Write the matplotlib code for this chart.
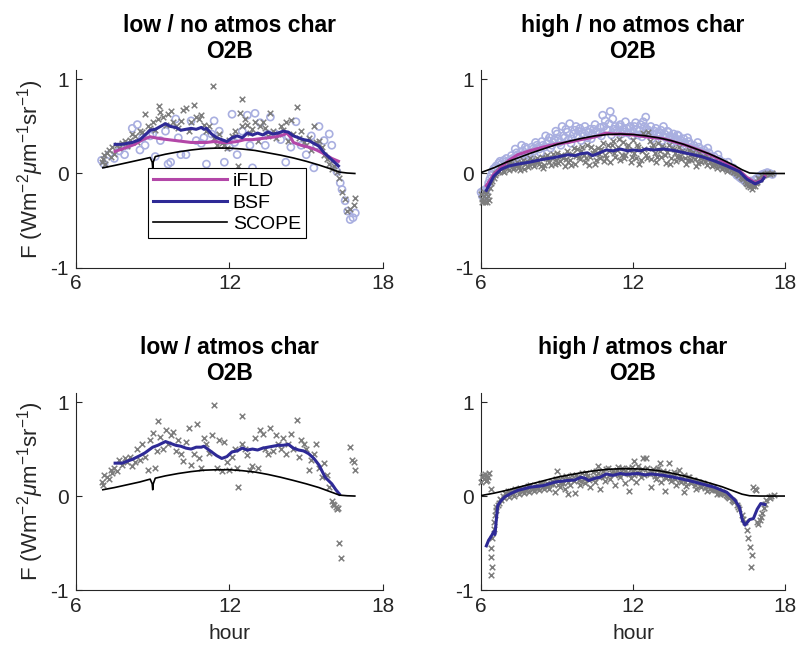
import matplotlib
matplotlib.use('Agg')
import matplotlib.pyplot as plt

plt.rcParams['font.family'] = ['Liberation Sans', 'DejaVu Sans']
plt.rcParams['mathtext.fontset'] = 'custom'
plt.rcParams['mathtext.rm'] = 'Liberation Sans'
plt.rcParams['mathtext.it'] = 'Liberation Sans:italic'
plt.rcParams['axes.unicode_minus'] = False

titles = ['low / no atmos char\nO2B', 'high / no atmos char\nO2B',
          'low / atmos char\nO2B', 'high / atmos char\nO2B']
xticks = [6, 12, 18]
yticks = [-1, 0, 1]
ylab = r'F (Wm$^{-2}\mu$m$^{-1}$sr$^{-1}$)'

# ---- low / no atmos char ----
tl_scope_x = [7.05, 7.5, 8.0, 8.5, 8.9, 8.98, 9.0, 9.02, 9.1, 9.5, 10.0, 10.5, 11.0, 11.5, 12.0, 12.5,
              13.0, 13.5, 14.0, 14.5, 15.0, 15.5, 16.0, 16.3, 16.6, 16.9]
tl_scope_y = [0.06, 0.085, 0.115, 0.145, 0.17, 0.12, 0.06, 0.12, 0.18, 0.205, 0.23, 0.25, 0.265, 0.27, 0.27, 0.26,
              0.245, 0.22, 0.195, 0.165, 0.13, 0.09, 0.045, 0.015, 0.005, 0.0]
tl_bsf = [(7.53,0.31),(7.8,0.31),(8.0,0.32),(8.2,0.33),(8.5,0.36),(8.7,0.41),(8.9,0.46),(9.1,0.47),(9.3,0.5),
          (9.5,0.53),(9.7,0.5),(9.9,0.49),(10.1,0.46),(10.3,0.47),(10.5,0.48),(10.7,0.47),(10.9,0.49),(11.0,0.47),
          (11.1,0.48),(11.3,0.42),(11.5,0.38),(11.7,0.36),(11.9,0.34),(12.1,0.38),(12.3,0.4),(12.5,0.38),(12.7,0.43),
          (12.9,0.41),(13.1,0.43),(13.3,0.41),(13.5,0.44),(13.7,0.42),(13.9,0.43),(14.1,0.45),(14.3,0.44),(14.5,0.4),
          (14.7,0.38),(14.9,0.36),(15.1,0.35),(15.3,0.32),(15.5,0.29),(15.7,0.22),(15.9,0.17),(16.1,0.12),(16.26,0.08)]
tl_ifld = [(7.53,0.235),(7.8,0.26),(8.0,0.28),(8.3,0.31),(8.6,0.36),(8.9,0.39),(9.1,0.38),(9.3,0.37),(9.6,0.36),
           (9.9,0.35),(10.2,0.34),(10.5,0.33),(10.8,0.33),(11.1,0.33),(11.4,0.34),(11.7,0.33),(12.0,0.33),(12.3,0.34),
           (12.6,0.36),(12.9,0.36),(13.2,0.37),(13.5,0.38),(13.8,0.39),(14.1,0.41),(14.25,0.43),(14.4,0.38),(14.5,0.33),
           (14.8,0.3),(15.1,0.28),(15.4,0.25),(15.7,0.21),(16.0,0.16),(16.26,0.13)]
tl_cross = [(7.0,0.12),(7.05,0.15),(7.1,0.2),(7.15,0.1),(7.2,0.22),(7.3,0.25),(7.35,0.18),(7.4,0.28),(7.5,0.21),
            (7.6,0.3),(7.7,0.27),(7.8,0.32),(7.9,0.35),(8.0,0.29),(8.1,0.36),(8.2,0.42),(8.3,0.4),(8.4,0.33),(8.5,0.45),
            (8.6,0.44),(8.7,0.63),(8.8,0.5),(8.9,0.48),(9.0,0.55),(9.1,0.46),(9.2,0.58),(9.25,0.72),(9.3,0.65),(9.4,0.6),
            (9.5,0.52),(9.6,0.63),(9.7,0.66),(9.8,0.55),(9.9,0.5),(10.0,0.48),(10.1,0.56),(10.2,0.68),(10.3,0.7),
            (10.4,0.45),(10.5,0.55),(10.6,0.73),(10.7,0.6),(10.8,0.58),(10.9,0.62),(11.0,0.52),(11.1,0.45),(11.2,0.5),
            (11.37,0.93),(11.4,0.38),(11.5,0.3),(11.6,0.42),(11.7,0.32),(11.8,0.3),(11.9,0.27),(12.0,0.36),(12.1,0.4),
            (12.2,0.45),(12.35,0.08),(12.4,0.64),(12.48,0.79),(12.5,0.5),(12.6,0.58),(12.7,0.52),(12.8,0.43),(12.9,0.47),
            (13.0,0.55),(13.1,0.35),(13.2,0.5),(13.3,0.55),(13.4,0.48),(13.5,0.4),(13.6,0.64),(13.7,0.45),(13.8,0.38),
            (13.9,0.42),(14.0,0.5),(14.1,0.46),(14.2,0.55),(14.3,0.35),(14.4,0.57),(14.5,0.42),(14.63,0.71),(14.7,0.38),
            (14.8,0.45),(14.9,0.34),(15.0,0.3),(15.1,0.38),(15.2,0.25),(15.3,0.5),(15.4,0.33),(15.5,0.35),(15.6,0.28),
            (15.7,0.2),(15.8,0.15),(15.9,0.1),(16.0,0.05),(16.1,0.08),(16.2,0.02),(16.3,-0.05),(16.4,-0.2),
            (16.5,-0.27),(16.6,-0.4),(16.7,-0.38),(16.85,-0.33),(16.92,-0.26)]
tl_circ = [(7.0,0.14),(7.1,0.1),(7.3,0.2),(7.5,0.16),(7.7,0.24),(7.9,0.2),(8.0,0.3),(8.2,0.48),(8.4,0.52),(8.5,0.25),
           (8.7,0.3),(8.9,0.4),(9.1,0.18),(9.3,0.35),(9.5,0.45),(9.6,0.1),(9.7,0.12),(9.9,0.58),(10.1,0.2),(10.3,0.2),
           (10.5,0.56),(10.7,0.35),(10.9,0.32),(11.1,0.1),(11.3,0.42),(11.4,0.56),(11.6,0.45),(11.8,0.12),(12.0,0.28),
           (12.1,0.63),(12.3,0.2),(12.5,0.45),(12.7,0.62),(12.8,0.3),(12.9,0.06),(13.0,0.64),(13.2,0.54),(13.4,0.3),
           (13.6,0.6),(13.8,0.42),(14.0,0.36),(14.2,0.12),(14.4,0.28),(14.6,0.55),(14.8,0.3),(15.0,0.2),(15.2,0.4),
           (15.3,0.06),(15.5,0.5),(15.7,0.35),(15.9,0.42),(16.0,0.3),(16.1,0.1),(8.6,0.38),(9.0,0.42),(10.0,0.38),
           (11.0,0.38),(12.2,0.33),(13.5,0.42),(14.3,0.4),(15.4,0.3),(16.2,0.02),(16.33,-0.1),(16.4,-0.17),
           (16.52,-0.29),(16.62,-0.4),(16.72,-0.49),(16.83,-0.47),(16.92,-0.42)]

# ---- high / no atmos char ----
tr_scope_x = [6.0, 6.5, 7.0, 7.5, 8.0, 8.5, 9.0, 9.5, 10.0, 10.5, 11.0, 11.5, 12.0, 12.5, 13.0, 13.5, 14.0,
              14.5, 15.0, 15.5, 16.0, 16.3, 16.6, 17.0, 17.5, 18.0]
tr_scope_y = [0.01, 0.06, 0.12, 0.17, 0.22, 0.265, 0.31, 0.345, 0.375, 0.4, 0.415, 0.42, 0.415, 0.4, 0.38, 0.35,
              0.31, 0.26, 0.21, 0.15, 0.085, 0.04, 0.005, 0.0, 0.0, 0.0]
tr_bsf = [(6.21,-0.18),(6.5,-0.03),(6.79,0.045),(7.1,0.08),(7.45,0.1),(7.9,0.12),(8.44,0.15),(8.9,0.17),(9.43,0.2),
          (9.7,0.19),(9.94,0.21),(10.2,0.22),(10.4,0.19),(10.6,0.21),(10.94,0.25),(11.2,0.24),(11.5,0.26),(11.8,0.24),
          (12.0,0.25),(12.3,0.24),(12.5,0.26),(12.8,0.25),(13.2,0.26),(13.5,0.25),(13.7,0.24),(14.2,0.21),(14.7,0.18),
          (15.2,0.135),(15.7,0.08),(16.2,0.02),(16.49,-0.06),(16.82,-0.11),(17.08,-0.08),(17.17,-0.045)]
tr_ifld = [(6.21,-0.13),(6.5,-0.01),(6.8,0.07),(7.1,0.14),(7.45,0.2),(7.9,0.24),(8.44,0.28),(8.9,0.31),(9.43,0.33),
           (9.94,0.36),(10.5,0.39),(10.94,0.43),(11.2,0.42),(11.5,0.42),(12.0,0.41),(12.5,0.39),(13.2,0.37),
           (13.7,0.33),(14.2,0.29),(14.7,0.24),(15.2,0.18),(15.7,0.11),(16.2,0.03),(16.49,-0.04),(16.82,-0.1),
           (17.08,-0.07),(17.2,-0.03)]
tr_cross = [(6.0,-0.22),(6.05,-0.27),(6.1,-0.24),(6.15,-0.3),(6.2,-0.26),(6.25,-0.2),(6.3,-0.28),(6.35,-0.15),
            (6.4,-0.1),(6.5,-0.05),(6.6,0.0),(6.7,0.03),(6.8,0.05),(6.9,0.02),(7.0,0.08),(7.1,0.04),(7.2,0.1),
            (7.3,0.06),(7.4,0.12),(7.5,0.07),(7.6,0.11),(7.7,0.05),(7.8,0.13),(7.9,0.09),(8.0,0.14),(8.1,0.08),
            (8.2,0.16),(8.3,0.1),(8.4,0.18),(8.5,0.09),(8.6,0.2),(8.7,0.12),(8.8,0.17),(8.9,0.1),(9.0,0.22),(9.1,0.13),
            (9.2,0.19),(9.3,0.08),(9.4,0.24),(9.5,0.14),(9.6,0.21),(9.7,0.1),(9.8,0.26),(9.9,0.15),(10.0,0.28),
            (10.1,0.12),(10.2,0.3),(10.3,0.18),(10.4,0.22),(10.5,0.1),(10.6,0.27),(10.7,0.16),(10.8,0.32),(10.9,0.2),
            (11.0,0.3),(11.1,0.12),(11.2,0.35),(11.3,0.18),(11.4,0.28),(11.5,0.14),(11.6,0.33),(11.7,0.2),(11.8,0.3),
            (11.9,0.12),(12.0,0.36),(12.1,0.17),(12.2,0.28),(12.3,0.14),(12.4,0.43),(12.5,0.2),(12.6,0.44),(12.7,0.15),
            (12.8,0.3),(12.9,0.12),(13.0,0.32),(13.1,0.18),(13.2,0.27),(13.3,0.11),(13.4,0.3),(13.5,0.16),(13.6,0.26),
            (13.7,0.13),(13.8,0.28),(13.9,0.15),(14.0,0.23),(14.1,0.1),(14.2,0.25),(14.3,0.14),(14.4,0.2),(14.5,0.08),
            (14.6,0.22),(14.7,0.12),(14.8,0.18),(14.9,0.09),(15.0,0.16),(15.1,0.08),(15.2,0.13),(15.3,0.06),
            (15.4,0.11),(15.5,0.05),(15.6,0.08),(15.7,0.03),(15.8,0.06),(15.9,0.04),(16.0,0.02),(16.1,0.0),
            (16.2,-0.02),(16.3,-0.05),(16.4,-0.08),(16.5,-0.11),(16.6,-0.14),(16.7,-0.16),(16.8,-0.13),(16.9,-0.09),
            (17.0,-0.06),(17.1,-0.03),(17.2,-0.01),(17.3,0.0),(17.4,-0.01),(17.5,0.0),
            (7.05,0.1),(7.25,0.05),(7.45,0.09),(7.65,0.14),(7.85,0.07),(8.05,0.11),(8.25,0.13),(8.45,0.06),(8.65,0.15),
            (8.85,0.21),(9.05,0.11),(9.25,0.16),(9.45,0.12),(9.65,0.27),(9.85,0.18),(10.05,0.2),(10.25,0.09),
            (10.45,0.25),(10.65,0.21),(10.85,0.13),(11.05,0.24),(11.25,0.22),(11.45,0.37),(11.65,0.16),(11.85,0.25),
            (12.05,0.22),(12.25,0.1),(12.45,0.26),(12.65,0.35),(12.85,0.22),(13.05,0.24),(13.25,0.2),(13.45,0.1),
            (13.65,0.22),(13.85,0.19),(14.05,0.17),(14.25,0.2),(14.45,0.15),(14.65,0.17),(14.85,0.13),(15.05,0.12),
            (15.25,0.1),(15.45,0.08),(15.65,0.05),(15.85,0.04),(16.05,0.01),(16.25,-0.04),(16.45,-0.1),
            (16.65,-0.12),(16.85,-0.1)]
tr_cross2 = [(6.45,-0.08),(6.55,-0.02),(6.65,0.02),(6.75,0.06),(6.85,0.03),(6.95,0.07),(7.15,0.12),(7.35,0.09),
             (7.55,0.04),(7.75,0.1),(7.95,0.16),(8.15,0.12),(8.35,0.08),(8.55,0.17),(8.75,0.09),(8.95,0.14),
             (9.15,0.2),(9.35,0.15),(9.55,0.09),(9.75,0.19),(9.95,0.24),(10.15,0.17),(10.35,0.28),(10.55,0.14),
             (10.75,0.26),(10.95,0.17),(11.15,0.3),(11.35,0.25),(11.55,0.2),(11.75,0.28),(11.95,0.18),(12.15,0.3),
             (12.35,0.24),(12.55,0.16),(12.75,0.27),(12.95,0.18),(13.15,0.29),(13.35,0.23),(13.55,0.27),(13.75,0.18),
             (13.95,0.24),(14.15,0.14),(14.35,0.23),(14.55,0.11),(14.75,0.19),(14.95,0.15),(15.15,0.09),(15.35,0.12),
             (15.55,0.07),(15.75,0.08),(15.95,0.02),(16.15,-0.02),(16.35,-0.06),(16.55,-0.13),(16.75,-0.13),
             (16.95,-0.05),(17.15,-0.02),(6.02,-0.3),(6.12,-0.2),(6.22,-0.3),(6.28,-0.24)]
tr_circ = [(6.0,-0.2),(6.05,-0.24),(6.1,-0.18),(6.2,-0.22),(6.3,-0.1),(6.4,-0.02),(6.5,0.05),(6.6,0.08),(6.7,0.11),
           (6.8,0.1),(6.9,0.14),(7.0,0.16),(7.1,0.13),(7.2,0.19),(7.3,0.15),(7.4,0.22),(7.5,0.18),(7.6,0.3),(7.7,0.21),
           (7.8,0.26),(7.9,0.22),(8.0,0.28),(8.1,0.24),(8.2,0.3),(8.3,0.26),(8.4,0.34),(8.5,0.28),(8.6,0.32),
           (8.7,0.38),(8.8,0.3),(8.9,0.36),(9.0,0.42),(9.1,0.33),(9.2,0.5),(9.3,0.38),(9.4,0.44),(9.5,0.53),(9.6,0.37),
           (9.7,0.46),(9.8,0.4),(9.9,0.48),(10.0,0.43),(10.1,0.5),(10.2,0.38),(10.3,0.47),(10.4,0.42),(10.5,0.52),
           (10.6,0.44),(10.7,0.49),(10.8,0.62),(10.9,0.56),(11.0,0.46),(11.1,0.66),(11.2,0.58),(11.3,0.5),(11.4,0.44),
           (11.5,0.52),(11.6,0.47),(11.7,0.55),(11.8,0.43),(11.9,0.5),(12.0,0.45),(12.1,0.54),(12.2,0.41),(12.3,0.52),
           (12.4,0.55),(12.5,0.6),(12.6,0.46),(12.7,0.5),(12.8,0.42),(12.9,0.48),(13.0,0.4),(13.1,0.46),(13.2,0.5),
           (13.3,0.38),(13.4,0.44),(13.5,0.36),(13.6,0.42),(13.7,0.34),(13.8,0.4),(13.9,0.32),(14.0,0.37),(14.1,0.29),
           (14.2,0.34),(14.3,0.27),(14.4,0.3),(14.5,0.24),(14.6,0.28),(14.7,0.21),(14.8,0.25),(14.9,0.18),(15.0,0.22),
           (15.1,0.15),(15.2,0.18),(15.3,0.12),(15.4,0.15),(15.5,0.09),(15.6,0.11),(15.7,0.06),(15.8,0.07),
           (15.9,0.03),(16.0,0.02),(16.1,-0.02),(16.2,-0.04),(16.3,-0.06),(16.4,-0.08),(16.5,-0.09),(16.6,-0.1),
           (16.7,-0.09),(16.8,-0.07),(16.9,-0.05),(17.0,-0.03),(17.1,-0.01),(17.2,0.0),(17.3,0.01),(17.4,0.0),
           (17.5,-0.01),(7.15,0.1),(7.55,0.14),(7.95,0.18),(8.35,0.22),(8.75,0.27),(9.15,0.3),(9.55,0.32),
           (9.95,0.35),(10.35,0.37),(10.75,0.4),(11.15,0.41),(11.55,0.42),(11.95,0.4),(12.35,0.39),(12.75,0.37),
           (13.15,0.35),(13.55,0.33),(13.95,0.29),(14.35,0.25),(14.75,0.2),(15.15,0.16),(15.55,0.12),(15.95,0.06)]
tr_circ2 = [(6.15,-0.25),(6.25,-0.15),(6.35,-0.06),(6.45,0.02),(6.55,0.06),(6.75,0.13),(6.95,0.12),(7.25,0.16),
            (7.45,0.2),(7.65,0.24),(7.85,0.2),(8.05,0.26),(8.25,0.28),(8.45,0.3),(8.65,0.35),(8.85,0.33),(9.05,0.37),
            (9.25,0.4),(9.45,0.36),(9.65,0.42),(9.85,0.45),(10.05,0.4),(10.25,0.44),(10.45,0.47),(10.65,0.42),
            (10.85,0.5),(11.05,0.53),(11.25,0.47),(11.45,0.5),(11.65,0.44),(11.85,0.49),(12.05,0.5),(12.25,0.46),
            (12.45,0.5),(12.65,0.44),(12.85,0.45),(13.05,0.43),(13.25,0.42),(13.45,0.4),(13.65,0.38),(13.85,0.36),
            (14.05,0.33),(14.25,0.31),(14.45,0.27),(14.65,0.24),(14.85,0.22),(15.05,0.18),(15.25,0.14),(15.45,0.12),
            (15.65,0.08),(15.85,0.05),(16.05,0.0),(16.25,-0.05),(16.45,-0.09),(16.65,-0.08),(16.85,-0.06),
            (17.05,-0.02),(7.35,0.26),(7.75,0.28),(8.15,0.33),(8.55,0.4),(8.95,0.45),(9.35,0.47),(9.75,0.5),
            (10.15,0.45),(10.55,0.45),(10.95,0.47),(11.35,0.46),(11.75,0.48),(12.15,0.47),(12.55,0.47),(12.95,0.43),
            (13.35,0.45),(13.75,0.41),(14.15,0.38),(14.55,0.33),(14.95,0.27),(15.35,0.2),(15.75,0.12)]

# ---- low / atmos char ----
bl_scope_x = tl_scope_x
bl_scope_y = [0.067, 0.09, 0.12, 0.15, 0.18, 0.13, 0.067, 0.13, 0.19, 0.215, 0.24, 0.26, 0.275, 0.28, 0.28, 0.27,
              0.255, 0.23, 0.2, 0.166, 0.13, 0.09, 0.04, 0.01, 0.003, 0.0]
bl_bsf = [(7.53,0.35),(7.8,0.35),(8.0,0.37),(8.2,0.39),(8.5,0.43),(8.7,0.46),(9.0,0.52),(9.2,0.54),(9.5,0.58),
          (9.7,0.56),(9.9,0.54),(10.1,0.53),(10.3,0.51),(10.5,0.5),(10.7,0.52),(10.9,0.52),(11.0,0.53),(11.1,0.51),
          (11.3,0.47),(11.5,0.43),(11.7,0.4),(11.9,0.42),(12.1,0.47),(12.3,0.48),(12.5,0.51),(12.7,0.49),(12.9,0.5),
          (13.1,0.49),(13.3,0.51),(13.5,0.52),(13.7,0.53),(13.9,0.54),(14.1,0.54),(14.3,0.55),(14.5,0.51),(14.7,0.49),
          (14.9,0.48),(15.1,0.45),(15.3,0.4),(15.5,0.33),(15.74,0.2),(16.0,0.13),(16.15,0.07),(16.3,0.02)]
bl_cross = [(7.0,0.15),(7.05,0.12),(7.1,0.22),(7.2,0.2),(7.3,0.18),(7.35,0.28),(7.4,0.25),(7.5,0.3),(7.6,0.27),
            (7.7,0.38),(7.8,0.33),(7.9,0.4),(8.0,0.36),(8.1,0.42),(8.2,0.32),(8.3,0.36),(8.4,0.5),(8.5,0.38),
            (8.6,0.55),(8.7,0.42),(8.8,0.28),(8.9,0.6),(9.0,0.67),(9.1,0.3),(9.15,0.48),(9.22,0.8),(9.3,0.63),
            (9.4,0.5),(9.5,0.7),(9.6,0.55),(9.7,0.65),(9.8,0.68),(9.9,0.48),(10.0,0.6),(10.1,0.45),(10.2,0.37),
            (10.3,0.58),(10.43,0.72),(10.5,0.33),(10.6,0.45),(10.75,0.77),(10.8,0.4),(10.9,0.3),(11.0,0.62),
            (11.1,0.55),(11.2,0.46),(11.3,0.65),(11.41,0.97),(11.5,0.3),(11.6,0.6),(11.7,0.27),(11.8,0.57),(11.9,0.36),
            (12.0,0.28),(12.1,0.42),(12.2,0.5),(12.3,0.3),(12.35,0.1),(12.48,0.85),(12.5,0.55),(12.6,0.5),(12.7,0.44),
            (12.8,0.28),(12.9,0.32),(13.0,0.62),(13.1,0.3),(13.2,0.7),(13.3,0.66),(13.4,0.5),(13.5,0.45),(13.6,0.72),
            (13.7,0.48),(13.8,0.65),(13.9,0.55),(14.0,0.5),(14.1,0.62),(14.2,0.45),(14.3,0.55),(14.4,0.66),(14.5,0.5),
            (14.63,0.81),(14.7,0.42),(14.8,0.6),(14.9,0.55),(15.0,0.5),(15.1,0.28),(15.2,0.38),(15.3,0.45),(15.4,0.55),
            (15.5,0.3),(15.6,0.2),(15.7,0.35),(15.8,0.22),(15.9,0.1),(16.0,-0.05),(16.05,-0.08),(16.1,-0.1),
            (16.15,-0.12),(16.2,-0.14),(16.25,-0.13),(16.3,-0.5),(16.36,-0.66),(16.72,0.52),(16.8,0.38),
            (16.85,0.36),(16.9,0.28)]

# ---- high / atmos char ----
br_scope_x = tr_scope_x
br_scope_y = [0.005, 0.03, 0.06, 0.095, 0.13, 0.165, 0.2, 0.225, 0.25, 0.27, 0.285, 0.29, 0.29, 0.285, 0.27, 0.245,
              0.215, 0.18, 0.14, 0.1, 0.05, 0.02, 0.003, 0.0, 0.0, 0.0]
br_bsf = [(6.21,-0.53),(6.3,-0.47),(6.4,-0.43),(6.5,-0.38),(6.55,-0.41),(6.6,-0.26),(6.66,-0.1),(6.79,-0.05),
          (6.93,-0.01),(7.2,0.03),(7.45,0.06),(7.95,0.095),(8.44,0.11),(8.94,0.15),(9.4,0.165),(9.7,0.17),(9.94,0.2),
          (10.1,0.19),(10.25,0.165),(10.5,0.19),(10.7,0.2),(10.94,0.235),(11.2,0.22),(11.5,0.24),(11.7,0.23),
          (11.94,0.235),(12.2,0.24),(12.5,0.225),(12.7,0.235),(13.2,0.22),(13.7,0.195),(14.2,0.165),(14.7,0.13),
          (15.2,0.095),(15.7,0.04),(16.03,-0.045),(16.2,-0.12),(16.32,-0.26),(16.42,-0.31),(16.6,-0.25),
          (16.75,-0.24),(16.9,-0.14),(17.04,-0.08),(17.2,-0.09)]
br_cross = [(6.0,0.15),(6.05,0.2),(6.1,0.18),(6.15,0.23),(6.2,0.21),(6.25,0.17),(6.3,0.24),(6.4,0.08),(6.38,-0.55),
            (6.4,-0.65),(6.42,-0.76),(6.38,-0.84),(6.5,-0.35),(6.52,-0.28),(6.55,-0.2),(6.6,-0.15),(6.65,-0.1),
            (6.7,-0.07),(6.8,-0.04),(6.9,-0.02),(7.0,0.02),(7.1,-0.01),(7.2,0.04),(7.3,0.0),(7.4,0.06),(7.5,0.02),
            (7.6,0.07),(7.7,0.03),(7.8,0.09),(7.9,0.04),(8.0,0.1),(8.1,0.05),(8.2,0.12),(8.3,0.06),(8.4,0.13),
            (8.5,0.07),(8.6,0.14),(8.7,0.08),(8.8,0.16),(8.9,0.04),(9.0,0.17),(9.1,0.1),(9.2,0.2),(9.3,0.08),
            (9.4,0.18),(9.5,0.12),(9.6,0.22),(9.7,0.03),(9.8,0.2),(9.9,0.12),(10.0,0.24),(10.1,0.14),(10.2,0.21),
            (10.3,0.1),(10.4,0.26),(10.5,0.15),(10.6,0.24),(10.7,0.08),(10.8,0.27),(10.9,0.16),(11.0,0.3),(11.1,0.18),
            (11.2,0.27),(11.3,0.12),(11.4,0.31),(11.5,0.2),(11.6,0.29),(11.7,0.14),(11.8,0.3),(11.9,0.19),(12.0,0.27),
            (12.1,0.15),(12.2,0.32),(12.3,0.2),(12.4,0.4),(12.5,0.41),(12.6,0.24),(12.7,0.1),(12.8,0.29),(12.9,0.18),
            (13.0,0.3),(13.1,0.15),(13.2,0.27),(13.3,0.19),(13.4,0.35),(13.5,0.16),(13.6,0.26),(13.7,0.12),
            (13.8,0.28),(13.9,0.15),(14.0,0.22),(14.1,0.11),(14.2,0.2),(14.3,0.14),(14.4,0.17),(14.5,0.07),
            (14.6,0.15),(14.7,0.1),(14.8,0.13),(14.9,0.05),(15.0,0.11),(15.1,0.06),(15.2,0.08),(15.3,0.02),
            (15.4,0.04),(15.5,0.04),(15.6,0.02),(15.7,0.0),(15.8,-0.02),(15.9,-0.04),(16.0,-0.06),(16.1,-0.1),
            (16.2,-0.14),(16.3,-0.2),(16.42,-0.28),(16.49,-0.36),(16.55,-0.45),(16.62,-0.54),(16.69,-0.63),
            (16.66,-0.75),(16.75,0.1),(16.8,0.08),(16.85,0.06),(16.95,-0.3),(17.0,-0.26),(17.05,-0.22),(17.1,-0.18),
            (17.15,-0.13),(17.25,-0.04),(17.35,-0.01),(17.45,0.0),(17.55,0.01),
            (7.05,0.05),(7.25,0.02),(7.45,0.08),(7.65,0.05),(7.85,0.11),(8.05,0.07),(8.25,0.09),(8.45,0.1),
            (8.65,0.11),(8.85,0.13),(9.05,0.12),(9.25,0.14),(9.45,0.15),(9.65,0.16),(9.85,0.17),(10.05,0.18),
            (10.25,0.17),(10.45,0.19),(10.65,0.2),(10.85,0.21),(11.05,0.22),(11.25,0.23),(11.45,0.22),(11.65,0.25),
            (11.85,0.23),(12.05,0.22),(12.25,0.25),(12.45,0.22),(12.65,0.23),(12.85,0.21),(13.05,0.22),(13.25,0.2),
            (13.45,0.19),(13.65,0.18),(13.85,0.17),(14.05,0.15),(14.25,0.15),(14.45,0.12),(14.65,0.11),(14.85,0.09),
            (15.05,0.07),(15.25,0.06),(15.45,0.02),(15.65,0.01)]
br_cross2 = [(6.08,0.22),(6.18,0.16),(6.28,0.2),(6.45,-0.45),(6.58,-0.12),(6.75,-0.03),(6.85,0.0),(6.95,0.03),
             (7.15,0.05),(7.35,0.07),(7.55,0.09),(7.75,0.06),(7.95,0.12),(8.15,0.09),(8.35,0.14),(8.55,0.11),
             (8.75,0.13),(8.95,0.18),(9.15,0.14),(9.35,0.21),(9.55,0.18),(9.75,0.22),(9.95,0.16),(10.15,0.25),
             (10.35,0.19),(10.55,0.27),(10.75,0.21),(10.95,0.29),(11.15,0.25),(11.35,0.28),(11.55,0.3),(11.75,0.24),
             (11.95,0.31),(12.15,0.26),(12.35,0.29),(12.55,0.3),(12.75,0.26),(12.95,0.28),(13.15,0.23),(13.35,0.26),
             (13.55,0.21),(13.75,0.24),(13.95,0.19),(14.15,0.2),(14.35,0.17),(14.55,0.15),(14.75,0.14),(14.95,0.12),
             (15.15,0.1),(15.35,0.06),(15.55,0.03),(15.75,-0.01),(15.95,-0.05),(16.15,-0.12),(16.35,-0.24),
             (16.9,-0.28),(17.2,-0.08),(17.4,-0.02),(12.05,0.37),(13.05,0.35),(9.0,0.27),(10.6,0.32),(11.85,0.05),
             (9.45,0.02),(13.25,0.05),(14.0,0.04)]

panels = [
    (tl_scope_x, tl_scope_y, tl_bsf, tl_ifld, tl_cross, tl_circ),
    (tr_scope_x, tr_scope_y, tr_bsf, tr_ifld, tr_cross + tr_cross2, tr_circ + tr_circ2),
    (bl_scope_x, bl_scope_y, bl_bsf, None, bl_cross, None),
    (br_scope_x, br_scope_y, br_bsf, None, br_cross + br_cross2, None),
]
ax_pos = [[0.0952, 0.5922, 0.3847, 0.301], [0.6028, 0.5922, 0.381, 0.301],
          [0.0952, 0.1006, 0.3847, 0.3008], [0.6028, 0.1006, 0.381, 0.3008]]

c_ifld = '#b347a8'
c_bsf = '#2e2a96'
c_circ = '#a9afe0'
c_cross = '#7d7d7d'
axcol = '#262626'

fig = plt.figure(figsize=(7.98, 6.56), dpi=100)

for i, (sx, sy, bsf, ifld, cross, circ) in enumerate(panels):
    ax = fig.add_axes(ax_pos[i])
    if circ is not None:
        cx, cy = zip(*circ)
        ax.scatter(cx, cy, s=26, facecolors='none', edgecolors=c_circ, linewidths=1.2, clip_on=False, zorder=2)
    kx, ky = zip(*cross)
    ax.scatter(kx, ky, s=16, marker='x', c=c_cross, linewidths=1.1, clip_on=False, zorder=3)
    if ifld is not None:
        fx, fy = zip(*ifld)
        ax.plot(fx, fy, color=c_ifld, lw=2.2, zorder=4, label='iFLD')
    bx, by = zip(*bsf)
    ax.plot(bx, by, color=c_bsf, lw=2.2, zorder=5, label='BSF')
    ax.plot(sx, sy, color='black', lw=1.2, zorder=6, label='SCOPE')

    ax.set_xlim(6, 18)
    ax.set_ylim(-1, 1.1)
    ax.set_xticks(xticks)
    ax.set_yticks(yticks)
    ax.tick_params(direction='in', length=4, width=0.8, labelsize=15, colors=axcol, pad=5)
    for s in ['top', 'right']:
        ax.spines[s].set_visible(False)
    for s in ['left', 'bottom']:
        ax.spines[s].set_color(axcol)
        ax.spines[s].set_linewidth(0.8)
    ax.set_title(titles[i], fontsize=16.5, fontweight='bold', pad=9, linespacing=1.15)
    if i % 2 == 0:
        ax.set_ylabel(ylab, fontsize=16, color=axcol, labelpad=3)
    if i >= 2:
        ax.set_xlabel('hour', fontsize=15, color=axcol, labelpad=6)
    if i == 0:
        leg = ax.legend(loc='upper left', bbox_to_anchor=(0.235, 0.505), fontsize=14, frameon=True,
                        fancybox=False, framealpha=1, edgecolor='black', handlelength=3.8,
                        borderpad=0.25, labelspacing=0.2, handletextpad=0.3, borderaxespad=0)
        leg.get_frame().set_linewidth(0.8)

fig.savefig('out.png', dpi=100)
